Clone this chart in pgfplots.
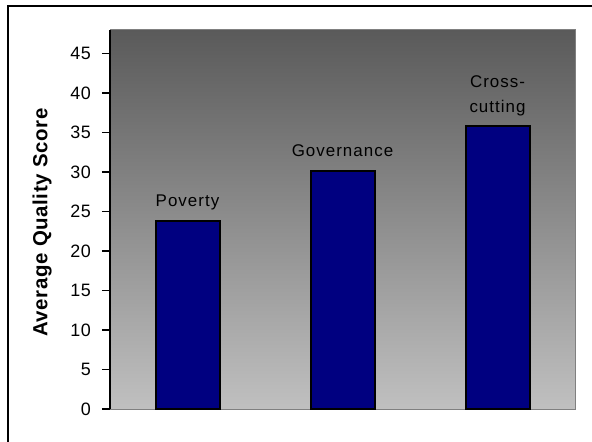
\documentclass[border=0pt]{standalone}
\usepackage{fontspec}
\setmainfont{Liberation Sans}
\newfontfamily\trackfont[LetterSpace=6]{Liberation Sans}
\newfontfamily\tickfont[LetterSpace=3]{Liberation Sans}
\newfontfamily\labelfont[LetterSpace=3]{Liberation Sans}
\usepackage{pgfplots}
\pgfplotsset{compat=1.18}
\definecolor{navybar}{RGB}{0,0,128}
\definecolor{bgtop}{RGB}{90,90,90}
\definecolor{bgbot}{RGB}{192,192,192}
\definecolor{frame}{RGB}{128,128,128}
\begin{document}
\begin{tikzpicture}
\useasboundingbox (0,0) rectangle (592bp,442bp);
\fill[white] (0,0) rectangle (592bp,442bp);
\draw[line width=2bp] (8bp,-2bp) -- (8bp,436bp) -- (594bp,436bp);
\begin{axis}[
  at={(110bp,33bp)}, anchor=south west,
  scale only axis, width=465bp, height=379bp,
  xmin=-0.5, xmax=2.5, ymin=0, ymax=48,
  ytick={0,5,...,45}, xtick=\empty,
  ytick pos=left,
  axis background/.style={top color=bgtop, bottom color=bgbot},
  axis line style={draw=frame, line width=1bp},
  tick align=outside,
  major tick length=8bp,
  ytick style={black, line width=1.5bp},
  yticklabel style={font=\tickfont\fontsize{18}{21}\selectfont, inner sep=0pt, xshift=-11bp},
  /pgf/number format/assume math mode=true,
  ylabel={Average Quality Score},
  ylabel style={at={(axis description cs:-0.146,0.492)}, anchor=center, rotate=0, font=\labelfont\bfseries\fontsize{20.5}{24}\selectfont},
  clip=false,
]
\addplot[ybar, bar width=64bp, bar shift=0pt, fill=navybar, draw=black, line width=2bp] coordinates {(0,23.8) (1,30.2) (2,35.8)};
\draw[black, line width=1.5bp] (rel axis cs:0,0) -- (rel axis cs:0,1);
\node[anchor=base, yshift=14.5bp, font=\trackfont\fontsize{17}{20}\selectfont] at (axis cs:0,23.8) {Poverty};
\node[anchor=base, yshift=14bp, font=\trackfont\fontsize{17}{20}\selectfont] at (axis cs:1,30.2) {Governance};
\node[anchor=base, yshift=14bp, font=\trackfont\fontsize{17}{20}\selectfont] at (axis cs:2,35.8) {cutting};
\node[anchor=base, yshift=38.5bp, font=\trackfont\fontsize{17}{20}\selectfont] at (axis cs:2,35.8) {Cross-};
\end{axis}
\end{tikzpicture}
\end{document}
